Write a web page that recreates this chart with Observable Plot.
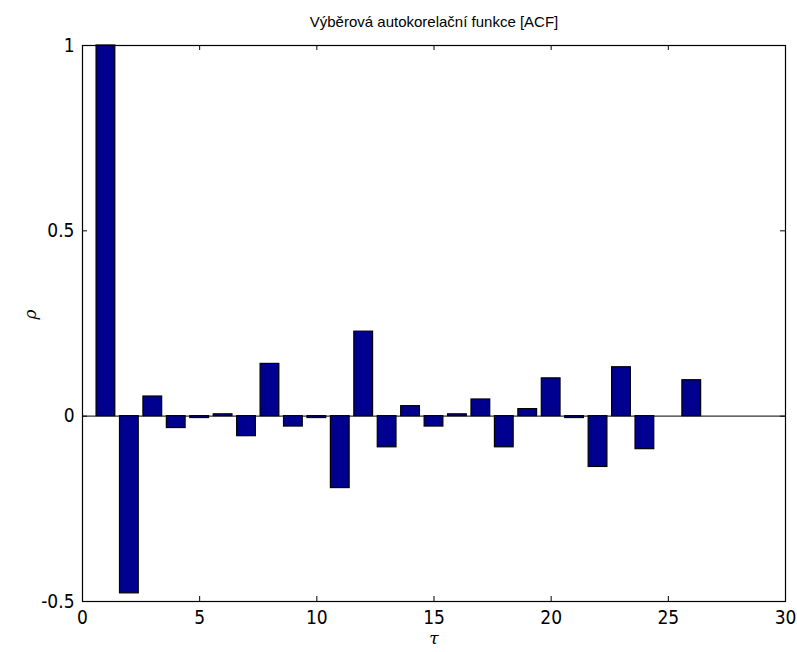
<!DOCTYPE html>
<html>
<head>
<meta charset="utf-8">
<script src="https://cdn.jsdelivr.net/npm/d3@7"></script>
<script src="https://cdn.jsdelivr.net/npm/@observablehq/plot@0.6"></script>
<style>
  html, body { margin: 0; padding: 0; background: #fff; }
  #chart svg { display: block; }
</style>
</head>
<body>
<div id="chart"></div>
<script>
// Sample autocorrelation function: lag τ and coefficient ρ(τ)
const lags = [1, 2, 3, 4, 5, 6, 7, 8, 9, 10, 11, 12, 13, 14, 15, 16, 17, 18, 19, 20, 21, 22, 23, 24, 25, 26];
const rho = [1.0, -0.478, 0.053, -0.032, -0.005, 0.005, -0.054, 0.141, -0.028, -0.005,
             -0.194, 0.228, -0.084, 0.027, -0.028, 0.005, 0.045, -0.084, 0.019, 0.102,
             -0.005, -0.137, 0.132, -0.089, 0.0, 0.097];
const xTicks = [0, 5, 10, 15, 20, 25, 30];
const yTicks = [-0.5, 0, 0.5, 1];
const titleText = "Výběrová autokorelační funkce [ACF]";
const xLabel = "τ";
const yLabel = "ρ";

const acf = lags.map((lag, i) => ({lag, rho: rho[i]}));

const W = 797, H = 652;
const M = {top: 45, right: 12, bottom: 51, left: 82};
const plotW = W - M.left - M.right;
const plotH = H - M.top - M.bottom;
const tickLen = 5;
const barHalf = 0.4;
const font = "'Liberation Sans Narrow', 'DejaVu Sans Condensed', 'Liberation Sans', sans-serif";

const chart = Plot.plot({
  width: W,
  height: H,
  marginTop: M.top,
  marginRight: M.right,
  marginBottom: M.bottom,
  marginLeft: M.left,
  style: {fontFamily: font, fontSize: "17px", color: "#000", background: "#fff"},
  x: {domain: [0, 30], ticks: xTicks},
  y: {domain: [-0.5, 1], ticks: yTicks},
  marks: [
    // zero baseline
    Plot.ruleY([0], {stroke: "#333", strokeWidth: 1.2}),
    // bars
    Plot.rectY(acf, {
      x1: d => d.lag - barHalf,
      x2: d => d.lag + barHalf,
      y1: 0,
      y2: d => d.rho,
      fill: "#000090",
      stroke: "#000",
      strokeWidth: 1.2
    }),
    // inward ticks on all four sides
    Plot.tickX(xTicks, {x: d => d, insetTop: plotH - tickLen, stroke: "#000"}),
    Plot.tickX(xTicks, {x: d => d, insetBottom: plotH - tickLen, stroke: "#000"}),
    Plot.tickY(yTicks, {y: d => d, insetRight: plotW - tickLen, stroke: "#000"}),
    Plot.tickY(yTicks, {y: d => d, insetLeft: plotW - tickLen, stroke: "#000"}),
    Plot.frame({stroke: "#000", strokeWidth: 1.2}),
    // tick labels
    Plot.axisX({ticks: xTicks, tickSize: 0, tickPadding: 9, tickFormat: d => d, fontSize: 19, label: null}),
    Plot.axisY({ticks: yTicks, tickSize: 0, tickPadding: 8, tickFormat: d => String(d), fontSize: 19, label: null}),
    // axis titles
    Plot.text([xLabel], {frameAnchor: "bottom", dy: 42, text: d => d, fontSize: 17, fontStyle: "italic", fontFamily: "'DejaVu Serif', serif"}),
    Plot.text([yLabel], {frameAnchor: "left", dx: -52, dy: -4, rotate: -90, text: d => d, fontSize: 17, fontStyle: "italic", fontFamily: "'DejaVu Serif', serif"}),
    // title
    Plot.text([titleText], {frameAnchor: "top", dy: -29, text: d => d, fontSize: 15, fontFamily: "'Liberation Sans', Arial, sans-serif"})
  ]
});

document.getElementById("chart").appendChild(chart);
</script>
</body>
</html>
